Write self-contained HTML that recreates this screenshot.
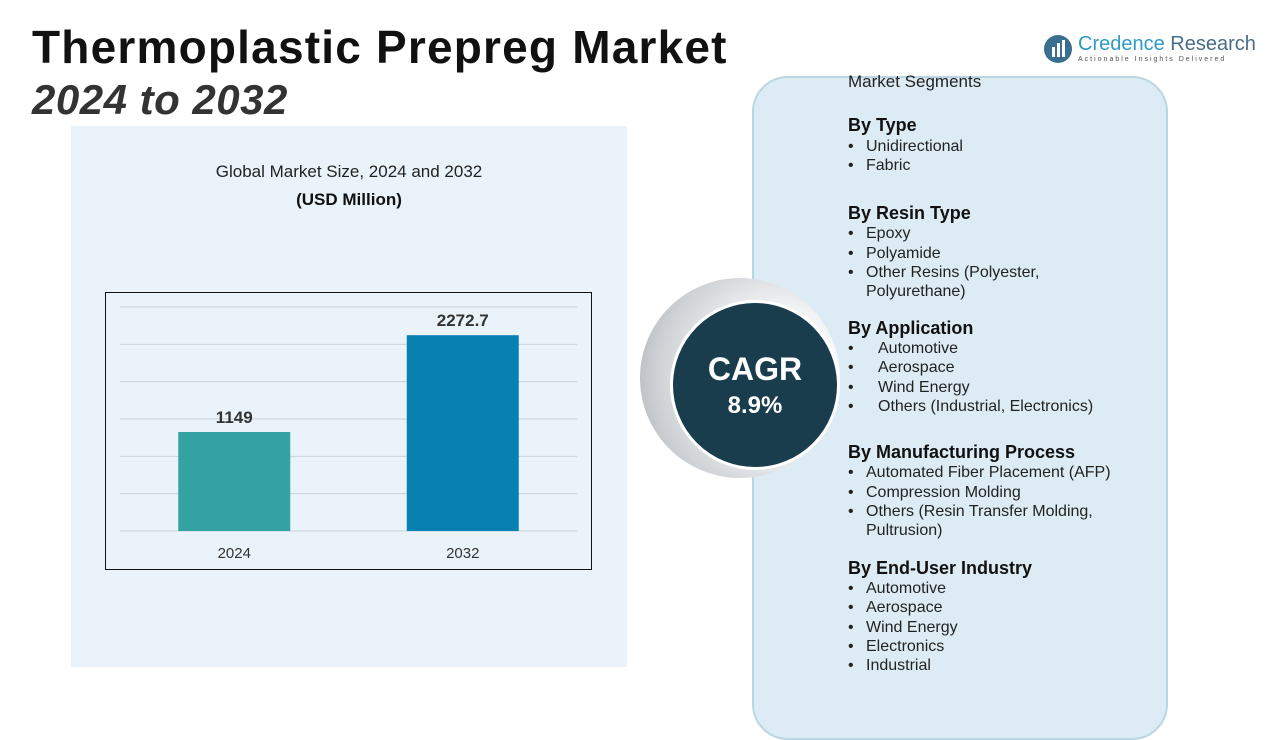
<!DOCTYPE html>
<html><head><meta charset="utf-8">
<style>
body{margin:0;width:1280px;height:720px;overflow:hidden;background:#fff;font-family:"Liberation Sans",sans-serif;position:relative}
.abs{position:absolute}
h1{position:absolute;left:32px;top:20px;margin:0;font-size:46px;font-weight:bold;color:#111;letter-spacing:1.2px;white-space:nowrap}
h2{position:absolute;left:32px;top:76px;margin:0;font-size:42px;font-weight:bold;font-style:italic;color:#333;letter-spacing:0.5px}
.seg{font-size:16px;color:#222;line-height:19.3px}
.seg b{font-size:18px;display:block;margin-bottom:1px;color:#111}
.seg .it{padding-left:18px;position:relative}
.seg .it:before{content:"•";position:absolute;left:0}
</style></head><body>
<div class="abs" style="left:71px;top:126px;width:556px;height:541px;background:#e9f3f9"></div>
<h1>Thermoplastic Prepreg Market</h1>
<h2>2024 to 2032</h2>
<div class="abs" style="left:1042px;top:33px;width:210px;height:32px">
 <svg width="32" height="32"><circle cx="16" cy="16" r="14" fill="#3b6f8f"/><rect x="10" y="14" width="3" height="10" fill="#fff"/><rect x="15" y="10" width="3" height="14" fill="#fff"/><rect x="20" y="7" width="3" height="17" fill="#fff"/></svg>
 <span class="abs" style="left:36px;top:0;font-size:20px;color:#2e9bc4;white-space:nowrap">Credence <span style="color:#4a6e86">Research</span></span>
 <span class="abs" style="left:36px;top:23px;font-size:7px;letter-spacing:2px;color:#555;white-space:nowrap">Actionable Insights Delivered</span>
</div>
<div class="abs" style="left:71px;width:556px;top:162px;text-align:center;font-size:17px;color:#222">Global Market Size, 2024 and 2032</div>
<div class="abs" style="left:71px;width:556px;top:190px;text-align:center;font-size:17px;font-weight:bold;color:#111">(USD Million)</div>
<svg class="abs" id="chart" style="left:105px;top:292px" width="487" height="278"></svg>
<div class="abs" style="left:752px;top:76px;width:412px;height:660px;border-radius:36px;background:#ddecf4;border:2px solid #b9d6e3"></div>
<div class="abs" style="left:640px;top:278px;width:200px;height:200px;border-radius:50%;background:radial-gradient(circle at 70% 50%,#fff 30%,#c9cdd1 75%,#9aa2a8 100%)"></div>
<div class="abs" style="left:670px;top:300px;width:170px;height:170px;border-radius:50%;background:#1a3d4e;border:3px solid #fff;box-sizing:border-box;color:#fff;text-align:center">
 <div style="margin-top:48px;font-size:32px;font-weight:bold">CAGR</div>
 <div style="font-size:24px;font-weight:bold;margin-top:4px">8.9%</div>
</div>
<div class="abs seg" style="left:848px;top:72px;width:300px">
 <span style="font-size:17px">Market Segments</span>
 <b style="margin-top:24px">By Type</b>
 <div class="it">Unidirectional</div><div class="it">Fabric</div>
 <b style="margin-top:29px">By Resin Type</b>
 <div class="it">Epoxy</div><div class="it">Polyamide</div><div class="it">Other Resins (Polyester,<br>Polyurethane)</div>
 <b style="margin-top:17px">By Application</b>
 <div class="it" style="padding-left:30px">Automotive</div><div class="it" style="padding-left:30px">Aerospace</div><div class="it" style="padding-left:30px">Wind Energy</div><div class="it" style="padding-left:30px">Others (Industrial, Electronics)</div>
 <b style="margin-top:27px">By Manufacturing Process</b>
 <div class="it">Automated Fiber Placement (AFP)</div><div class="it">Compression Molding</div><div class="it">Others (Resin Transfer Molding,<br>Pultrusion)</div>
 <b style="margin-top:18px">By End-User Industry</b>
 <div class="it">Automotive</div><div class="it">Aerospace</div><div class="it">Wind Energy</div><div class="it">Electronics</div><div class="it">Industrial</div>
</div>
<script>
const categories=["2024","2032"];
const values=[1149,2272.7];
const labels=["1149","2272.7"];
const colors=["#35a3a3","#0880b1"];
const svg=document.getElementById('chart');const NS="http://www.w3.org/2000/svg";
const x0=15,x1=472,base=239,ph=224,ymax=2600;
const y=v=>base-v/ymax*ph;
const bw=112;const xc=i=>x0+(x1-x0)*(i+0.5)/categories.length;
function mk(t,a){const e=document.createElementNS(NS,t);for(const k in a)e.setAttribute(k,a[k]);svg.appendChild(e);return e;}
const fr=mk('rect',{x:0.5,y:0.5,width:486,height:277,fill:'none',stroke:'#111'});


for(let k=0;k<=6;k++){const gy=base-k*ph/6;const l=mk('line',{x1:x0,x2:x1,y1:gy,y2:gy,stroke:'#ccd3d7'});

}
values.forEach((v,i)=>{
const r=mk('rect',{x:xc(i)-bw/2,y:y(v),width:bw,height:base-y(v),fill:colors[i]});


const t=mk('text',{x:xc(i),y:y(v)-9,'text-anchor':'middle','font-size':17,'font-weight':'bold',fill:'#333','font-family':'Liberation Sans'});t.textContent=labels[i];


const c=mk('text',{x:xc(i),y:base+27,'text-anchor':'middle','font-size':15,fill:'#333','font-family':'Liberation Sans'});c.textContent=categories[i];


});
</script>
</body></html>
